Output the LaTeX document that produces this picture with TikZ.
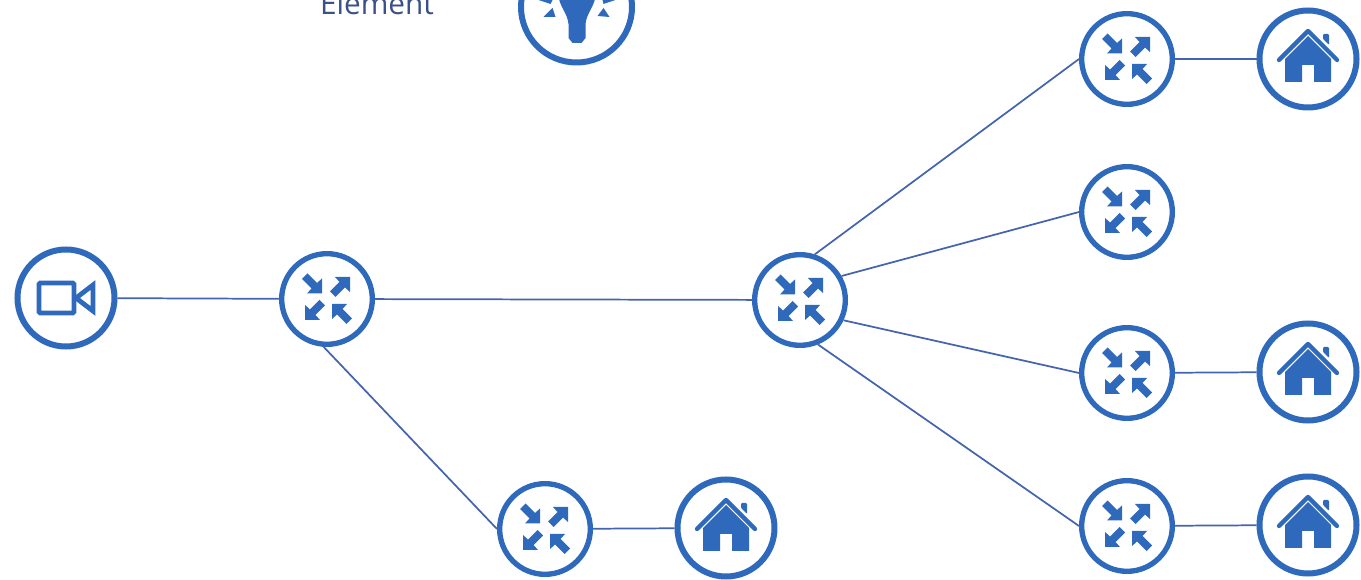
\documentclass[tikz,border=0pt]{standalone}
\usepackage{fontspec}
\setmainfont{Open Sans}
\definecolor{iconblue}{HTML}{2E69BC}
\definecolor{linkblue}{HTML}{4464AE}
\definecolor{textblue}{HTML}{3B5088}
\tikzset{
    ring/.style={circle, draw=iconblue, line width=4pt, fill=white, inner sep=0pt},
    routernode/.style={ring, minimum size=68pt},
    homenode/.style={ring, line width=4.5pt, minimum size=72.75pt},
    link/.style={draw=linkblue, line width=1.3pt},
    squeeze/.pic={
        \fill[iconblue] (0,0) -- (0,-15) -- (-5,-10.5) -- (-14.5,-20) -- (-20,-14.5) -- (-10.5,-5) -- (-15,0) -- cycle;
    },
    routericon/.pic={
        \pic at (-5,-5.5) {squeeze};
        \pic[rotate=90] at (23,-22) {squeeze};
        \pic[rotate=-90] at (-22,21) {squeeze};
        \pic[rotate=180] at (5,5) {squeeze};
    },
    houseicon/.pic={
        \fill[iconblue] (0,-23) -- (-23,0) -- (-23,23) -- (-6,23) -- (-6,6) -- (6,6) -- (6,23) -- (23,23) -- (23,0) -- cycle;
        \draw[iconblue, line width=3.2pt, line cap=round, line join=round] (-29,1) -- (0,-28) -- (29,1);
        \fill[iconblue, rounded corners=0.8pt] (15,-25) -- (21,-25) -- (21,-14) -- (15,-20) -- cycle;
    },
    cameraicon/.pic={
        \draw[iconblue, line width=3.6pt, rounded corners=1pt] (-27,-15) rectangle (8,15);
        \draw[iconblue, line width=3.6pt, line join=miter] (10,0) -- (27,-13) -- (27,13) -- cycle;
    },
    bulbicon/.pic={
        \fill[iconblue] (-18,-12) .. controls (-18,-2) and (-9,6) .. (-8,17) -- (-8,31) -- (-4,36) -- (5,36) -- (9,31) -- (9,17) .. controls (10,6) and (19,-2) .. (19,-12) -- cycle;
        \fill[iconblue] (-33,10) -- (-21,10) -- (-24,1) -- cycle;
        \fill[iconblue] (21,9) -- (33,10) -- (27,1) -- cycle;
        \fill[iconblue] (-38,-7) -- (-26,-3) -- (-24,-7) -- cycle;
        \fill[iconblue] (27,-3) -- (39,-7) -- (26,-7) -- cycle;
    }
}
\begin{document}
\begin{tikzpicture}[x=0.75pt, y=-0.75pt]
\clip (0,0) rectangle (1361,580);

% Legend remains
\node[text=textblue, font=\fontsize{22.3pt}{25pt}\selectfont, anchor=base] (legendtext) at (377,15) {Element};
\node[ring, line width=4.5pt, minimum size=83.25pt] (bulb) at (576.5,7) {};
\pic at (bulb) {bulbicon};

% Rings
\node[homenode] (camera) at (66,298) {};
\node[routernode] (source) at (327,299) {};
\node[routernode] (hub) at (800,300) {};
\node[routernode] (branch) at (545,529) {};
\node[routernode] (edgea) at (1127,59) {};
\node[routernode] (edgeb) at (1127,212) {};
\node[routernode] (edgec) at (1127,373) {};
\node[routernode] (edged) at (1127,526) {};
\node[homenode] (homea) at (1308,59) {};
\node[homenode] (homec) at (1308,372) {};
\node[homenode] (homed) at (1308,525) {};
\node[homenode] (homeb) at (726,528) {};

% Icons
\pic at (camera) {cameraicon};
\foreach \r in {source, hub, branch, edgea, edgeb, edgec, edged} {
    \pic at (\r) {routericon};
}
\foreach \h in {homea, homeb, homec, homed} {
    \pic at (\h) {houseicon};
}

% Links
\draw[link] (camera) -- (source);
\draw[link] (source) -- (hub);
\draw[link] (source.-94) -- (branch.west);
\draw[link] (branch) -- (homeb);
\draw[link] (hub.72) -- (edgea.west);
\draw[link] (hub.30) -- (edgeb.west);
\draw[link] (hub.-25) -- (edgec.west);
\draw[link] (hub.-68) -- (edged.west);
\draw[link] (edgea) -- (homea);
\draw[link] (edgec) -- (homec);
\draw[link] (edged) -- (homed);

\end{tikzpicture}
\end{document}
